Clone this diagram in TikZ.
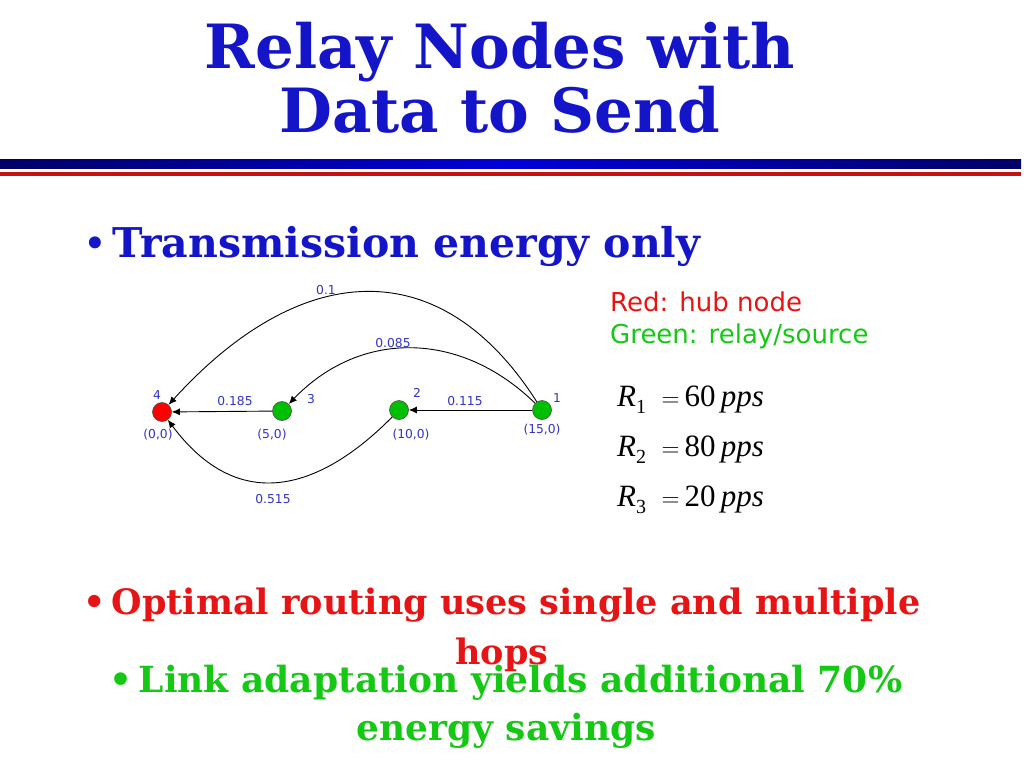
\documentclass[tikz,border=0pt]{standalone}
\usepackage{fontspec}
\setmainfont{DejaVu Serif}
\setsansfont{DejaVu Sans}
\newfontfamily\timesf{Liberation Serif}
\usetikzlibrary{arrows.meta}
\definecolor{tblue}{RGB}{20,20,200}
\definecolor{lblue}{RGB}{50,50,200}
\definecolor{tred}{RGB}{230,20,20}
\definecolor{tgreen}{RGB}{20,200,20}
\begin{document}
\begin{tikzpicture}[x=1pt,y=-1pt,
  vert/.style={circle,draw=black!70,line width=0.6pt,minimum size=19pt,inner sep=0pt},
  lab/.style={font=\sffamily\fontsize{12.3}{14}\selectfont,text=lblue,inner sep=0pt},
  edge/.style={-{Latex[length=8pt,width=7pt]},line width=0.9pt},
  big/.style={font=\bfseries\fontsize{35}{50}\selectfont,align=center}]
\useasboundingbox (0,0) rectangle (1024,768);
\node[font=\bfseries\fontsize{61}{64}\selectfont,text=tblue,align=center] (title) at (500,78) {Relay Nodes with\\ Data to Send};
\fill[left color=blue!40!black,right color=blue!40!black,middle color=blue!85!black] (0,159) rectangle (1021,168);
\fill[tred!85!black] (0,172) rectangle (1021,176);
\node[font=\bfseries\fontsize{41}{48}\selectfont,text=tblue,anchor=west,inner sep=0pt] (b1) at (84,246) {\raisebox{2pt}{\fontsize{34}{34}\selectfont\textbullet}\,Transmission energy only};
\node[vert,fill=red] (n4) at (162,412) {};
\node[vert,fill=green!75!black] (n3) at (282,411) {};
\node[vert,fill=green!75!black] (n2) at (399,410) {};
\node[vert,fill=green!75!black] (n1) at (542,410) {};
\node[lab] (l4) at (157,395) {4};
\node[lab] (l3) at (311,399) {3};
\node[lab] (l2) at (417,393) {2};
\node[lab] (l1) at (557,398) {1};
\node[lab] (c4) at (158,435) {(0,0)};
\node[lab] (c3) at (272,435) {(5,0)};
\node[lab] (c2) at (411,435) {(10,0)};
\node[lab] (c1) at (542,430) {(15,0)};
\draw[edge] (n1) .. controls (440,250) and (300,260) .. (n4);
\draw[edge] (n1) .. controls (460,330) and (360,330) .. (n3);
\draw[edge] (n3) -- (n4);
\draw[edge] (n1) -- (n2);
\draw[edge] (n2) .. controls (340,470) and (250,530) .. (n4);
\node[lab] (e14) at (326,290) {0.1};
\node[lab] (e13) at (393,343) {0.085};
\node[lab] (e34) at (235,401) {0.185};
\node[lab] (e12) at (465,401) {0.115};
\node[lab] (e24) at (273,499) {0.515};
\node[font=\sffamily\fontsize{26}{34}\selectfont,text=tred,anchor=west,inner sep=0pt] (leg1) at (610,302) {Red: hub node};
\node[font=\sffamily\fontsize{26}{34}\selectfont,text=tgreen,anchor=west,inner sep=0pt] (leg2) at (610,336) {Green: relay/source};
\foreach \i/\v/\y in {1/60/400,2/80/450,3/20/500}{
  \node[font=\timesf\fontsize{31}{34}\selectfont,anchor=west,inner sep=0pt] (r\i) at (617,\y) {\textit{R}\raisebox{-7pt}{\fontsize{20}{22}\selectfont\i}\,\,\,$=$\,\v\,\textit{pps}};
}
\node[big,text=tred] (b2) at (502,630) {\textbullet\,Optimal routing uses single and multiple\\hops};
\node[big,text=tgreen,font=\bfseries\fontsize{36}{48}\selectfont] (b3) at (506,707) {\textbullet\,Link adaptation yields additional 70\%\\energy savings};
\end{tikzpicture}
\end{document}
